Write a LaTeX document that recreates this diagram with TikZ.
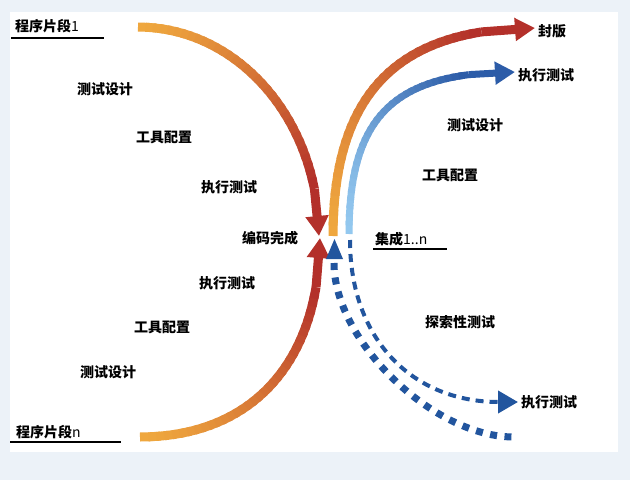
\documentclass[tikz,border=0pt]{standalone}
\usepackage{fontspec}
\usepackage{xcolor}
\usepackage{tikz}
\usetikzlibrary{arrows.meta,calc,positioning}
\newfontfamily\cjk{Noto Sans CJK SC}
\definecolor{orangeA}{HTML}{EFA73E}
\definecolor{redA}{HTML}{B3302A}
\definecolor{blueL}{HTML}{93C8EF}
\definecolor{blueD}{HTML}{2C5CA8}
\definecolor{blueDash}{HTML}{22559E}
\definecolor{slidebg}{HTML}{ECF2F8}
% shaft drawn in short pieces so the colour runs from #2 to #3
\newcommand\gradcurve[4]{%
  \path (#1-0) .. controls (#1-1) and (#1-2) .. (#1-3) coordinate[pos=0.86] (#1-h);
  \draw[line width=#4, #3, -{Triangle[length=20pt,width=22pt]}] (#1-h) -- (#1-3);
  \foreach \i in {0,...,33}{
    \pgfmathsetmacro\ta{\i/40}
    \pgfmathsetmacro\tb{min((\i+1.5)/40,0.86)}
    \pgfmathsetmacro\mix{100*(\i/33)^1.3}
    \path (#1-0) .. controls (#1-1) and (#1-2) .. (#1-3)
      coordinate[pos=\ta] (#1-s) coordinate[pos=\tb] (#1-e);
    \draw[line width=#4, #3!\mix!#2] (#1-s) -- (#1-e);
  }
}

\begin{document}
\begin{tikzpicture}[x=1pt,y=-1pt,
    lbl/.style={font=\cjk\bfseries\fontsize{14}{16}\selectfont, inner sep=0pt},
    uline/.style={line width=1.8pt}]
        \useasboundingbox (0,0) rectangle (630,480);
        %Color fill
        \fill[slidebg] (0,0) rectangle (630,480);
        \fill[white] (10,12) rectangle (618,452);
        \coordinate (la-0) at (138,27);
        \coordinate (la-1) at (238,27);
        \coordinate (la-2) at (319,120);
        \coordinate (la-3) at (319,236);
        \coordinate (lb-0) at (140,437);
        \coordinate (lb-1) at (252,437);
        \coordinate (lb-2) at (320,362);
        \coordinate (lb-3) at (320,238);
        \coordinate (ro-0) at (333,236);
        \coordinate (ro-1) at (333,94);
        \coordinate (ro-2) at (397,28);
        \coordinate (ro-3) at (535,28);
        \coordinate (rb-0) at (349,234);
        \coordinate (rb-1) at (349,115);
        \coordinate (rb-2) at (395,72);
        \coordinate (rb-3) at (515,72);
        \coordinate (td-0) at (350,240);
        \coordinate (td-1) at (350,340);
        \coordinate (td-2) at (413,402);
        \coordinate (td-3) at (518,402);
        \coordinate (tk-0) at (334,263);
        \coordinate (tk-1) at (334,341);
        \coordinate (tk-2) at (433,437);
        \coordinate (tk-3) at (514,437);
        %Draw labels
        \node[lbl, anchor=west] (seg1) at (15,26) {程序片段{\mdseries 1}};
        \node[lbl, anchor=west] (segn) at (16,432) {程序片段{\mdseries n}};
        \node[lbl] (designA) at (105,89) {测试设计};
        \node[lbl] (toolA) at (164,137) {工具配置};
        \node[lbl] (runA) at (229,187) {执行测试};
        \node[lbl] (done) at (270,238) {编码完成};
        \node[lbl] (runB) at (227,283) {执行测试};
        \node[lbl] (toolB) at (162,327) {工具配置};
        \node[lbl] (designB) at (108,372) {测试设计};
        \node[lbl, anchor=west] (seal) at (538,31) {封版};
        \node[lbl, anchor=west] (runC) at (518,75) {执行测试};
        \node[lbl] (designC) at (475,125) {测试设计};
        \node[lbl] (toolC) at (450,175) {工具配置};
        \node[lbl, anchor=west] (integ) at (375,239) {集成{\mdseries 1..n}};
        \node[lbl] (explore) at (460,322) {探索性测试};
        \node[lbl, anchor=west] (runD) at (521,402) {执行测试};
        \draw[uline] (11,38) -- (104,38);
        \draw[uline] (10,442) -- (121,442);
        \draw[uline] (373,249) -- (447,249);
        %Draw lines
        \gradcurve{la}{orangeA}{redA}{9pt}
        \gradcurve{lb}{orangeA}{redA}{9pt}
        \gradcurve{ro}{orangeA}{redA}{9pt}
        \gradcurve{rb}{blueL}{blueD}{7pt}
        \fill[blueDash] (326,259) -- (343,259) -- (334.5,239) -- cycle;
        \draw[blueDash, line width=4pt, dash pattern=on 8pt off 6pt, -{Triangle[length=20pt,width=22pt]}]
          (td-0) .. controls (td-1) and (td-2) .. (td-3);
        \draw[blueDash, line width=7pt, dash pattern=on 7pt off 7.5pt]
          (tk-0) .. controls (tk-1) and (tk-2) .. (tk-3);
      \end{tikzpicture}
\end{document}
